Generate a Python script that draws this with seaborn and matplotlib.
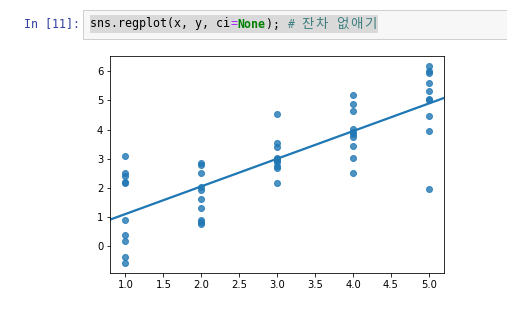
import matplotlib
matplotlib.use("Agg")
import matplotlib.pyplot as plt
from matplotlib.patches import Rectangle
import seaborn as sns
import numpy as np

# data
x1 = [1.0] * 10
y1 = [3.09, 2.53, 2.41, 2.20, 2.16, 0.90, 0.40, 0.19, -0.36, -0.56]
x2 = [2.0] * 10
y2 = [2.85, 2.80, 2.51, 2.02, 1.92, 1.63, 1.32, 0.92, 0.85, 0.77]
x3 = [3.0] * 10
y3 = [4.52, 3.53, 3.39, 3.02, 2.96, 2.89, 2.76, 2.68, 2.17, 3.00]
x4 = [4.0] * 10
y4 = [5.17, 4.86, 4.62, 4.01, 3.93, 3.85, 3.74, 3.45, 3.02, 2.51]
x5 = [5.0] * 10
y5 = [6.19, 5.99, 5.94, 5.61, 5.31, 5.04, 5.01, 4.45, 3.94, 1.97]

x = np.array(x1 + x2 + x3 + x4 + x5)
y = np.array(y1 + y2 + y3 + y4 + y5)

W, H = 507, 309
DPI = 72
fig = plt.figure(figsize=(W / DPI, H / DPI), dpi=DPI, facecolor="white")

def fx(px):
    return px / W

def fy(py):
    return 1 - py / H

ax = fig.add_axes([fx(110.3), fy(272.7), fx(444) - fx(110.3), fy(55.7) - fy(272.7)])
sns.regplot(x=x, y=y, ci=None, ax=ax, truncate=False)
ax.tick_params(labelsize=10)

# notebook cell chrome
fig.patches.append(Rectangle((fx(83), fy(39)), fx(507) - fx(83), fy(10) - fy(39),
                             transform=fig.transFigure, facecolor="#f7f7f7",
                             edgecolor="#cfcfcf", linewidth=1))
fig.patches.append(Rectangle((fx(90), fy(33)), fx(378) - fx(90), fy(15) - fy(33),
                             transform=fig.transFigure, facecolor="#d9d9d9",
                             edgecolor="none"))

mono = "DejaVu Sans Mono"
fs = 11.6
unit = 7.02
x0 = 90
yc = fy(24)

fig.text(fx(24), yc, "In [11]:", color="#303F9F", family=mono, fontsize=fs, va="center", ha="left")

def put(start, s, color, **kw):
    fig.text(fx(x0 + start * unit), yc, s, color=color, family=mono, fontsize=fs,
             va="center", ha="left", **kw)

put(0, "sns.regplot(x, y, ci", "#000000")
put(20, "=", "#AA22FF")
put(21, "None", "#008000", weight="bold")
put(25, ");", "#000000")
put(28, "#", "#408080", style="italic")

for start, ch in [(30, "잔"), (32, "차"), (35, "없"), (37, "애"), (39, "기")]:
    fig.text(fx(x0 + (start + 1) * unit), yc, ch, color="#408080",
             family=["Noto Sans CJK KR", "DejaVu Sans"], fontsize=13.5,
             va="center", ha="center")

fig.savefig("out.png", dpi=DPI)
